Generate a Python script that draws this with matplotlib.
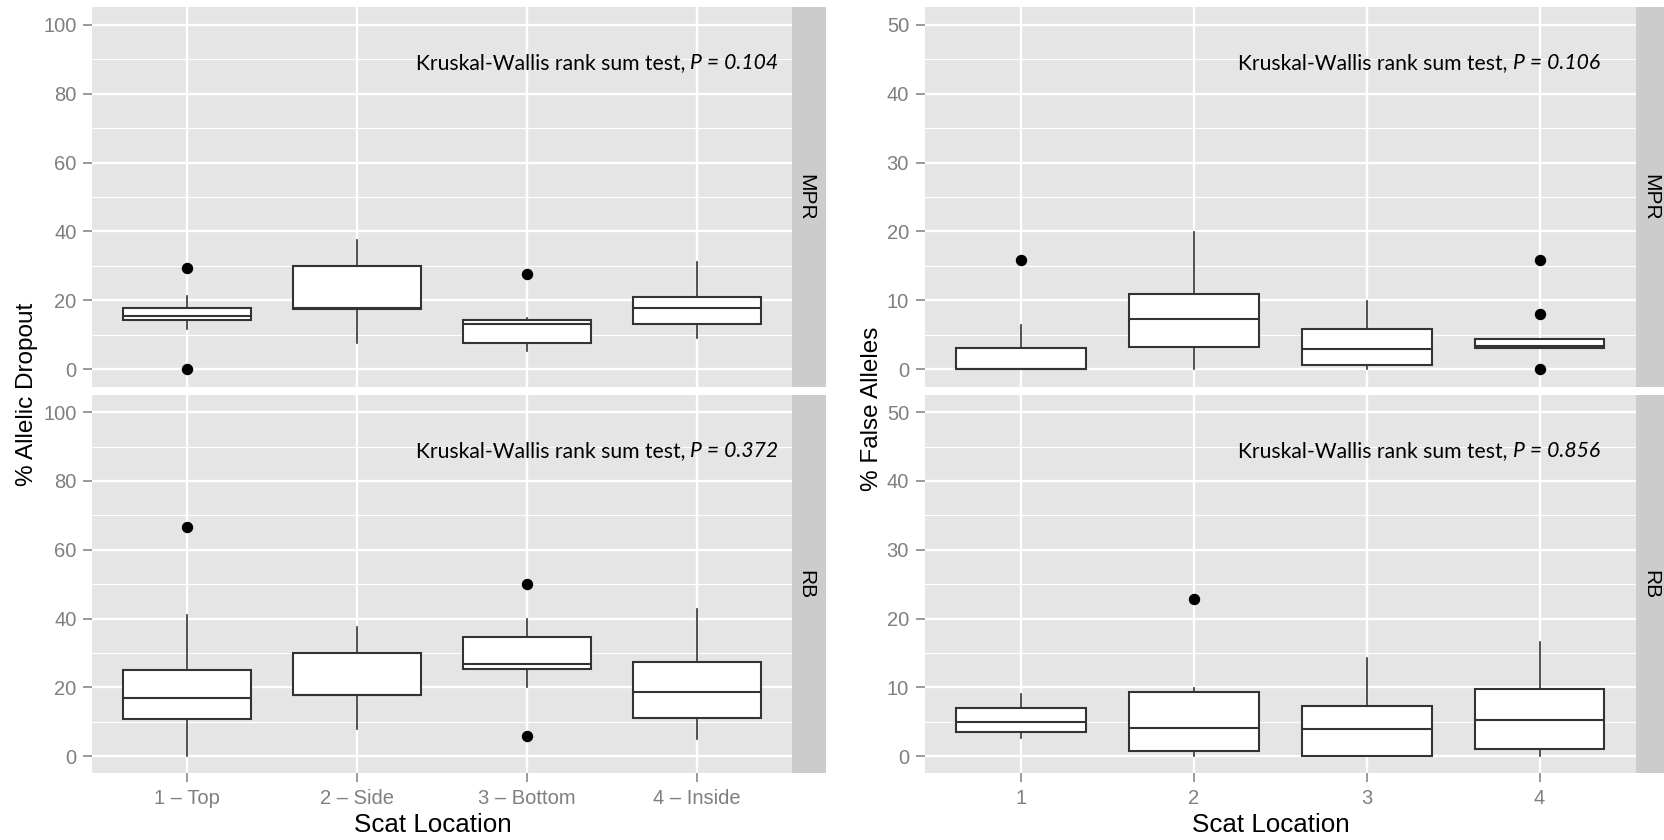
import matplotlib
matplotlib.use("Agg")
import matplotlib.pyplot as plt
from matplotlib.ticker import MultipleLocator
import numpy as np

# scat location categories
locations_left = ["1 – Top", "2 – Side", "3 – Bottom", "4 – Inside"]
locations_right = ["1", "2", "3", "4"]

# % allelic dropout, MPR
dropout_mpr_low = [11.6, 7.7, 5.3, 9.0]
dropout_mpr_q1 = [14.2, 17.6, 7.7, 13.3]
dropout_mpr_med = [15.5, 17.9, 13.3, 17.7]
dropout_mpr_q3 = [17.7, 30.0, 14.3, 21.1]
dropout_mpr_high = [21.4, 37.5, 15.0, 31.1]
dropout_mpr_out = [[29.5, 0.0], [], [27.7], []]

# % allelic dropout, RB
dropout_rb_low = [0.0, 7.8, 20.2, 5.0]
dropout_rb_q1 = [10.9, 17.7, 25.2, 11.1]
dropout_rb_med = [16.8, 17.9, 26.9, 18.6]
dropout_rb_q3 = [24.9, 30.0, 34.6, 27.4]
dropout_rb_high = [41.0, 37.5, 39.9, 42.9]
dropout_rb_out = [[66.7], [], [50.0, 5.8], []]

# % false alleles, MPR
false_mpr_low = [0.0, 0.0, 0.0, 3.1]
false_mpr_q1 = [0.0, 3.2, 0.6, 3.1]
false_mpr_med = [0.0, 7.3, 3.0, 3.4]
false_mpr_q3 = [3.1, 10.9, 5.9, 4.35]
false_mpr_high = [6.5, 19.9, 9.9, 4.35]
false_mpr_out = [[15.9], [], [], [15.8, 8.0, 0.0]]

# % false alleles, RB
false_rb_low = [2.7, 0.0, 0.0, 0.0]
false_rb_q1 = [3.5, 0.7, 0.0, 1.0]
false_rb_med = [5.0, 4.1, 3.9, 5.2]
false_rb_q3 = [7.0, 9.3, 7.25, 9.8]
false_rb_high = [9.1, 9.9, 14.25, 16.6]
false_rb_out = [[], [22.8], [], []]

facets = ["MPR", "RB"]
p_dropout = ["0.104", "0.372"]
p_false = ["0.106", "0.856"]

W, H = 1665, 840
PANEL_BG = "#E5E5E5"
STRIP_BG = "#CCCCCC"
GREY = "#7F7F7F"
BOX_EDGE = "#333333"
FONT = "Liberation Sans"
NOTE_FONT = "Lato"

plt.rcParams["font.family"] = FONT


def stats_from(low, q1, med, q3, high, out):
    return [dict(whislo=a, q1=b, med=c, q3=d, whishi=e, fliers=f)
            for a, b, c, d, e, f in zip(low, q1, med, q3, high, out)]


def px_axes(fig, x0, y0, x1, y1):
    return fig.add_axes([x0 / W, 1 - y1 / H, (x1 - x0) / W, (y1 - y0) / H])


def draw_facet(ax, stats, ymax, major, labels, show_x):
    ax.set_facecolor(PANEL_BG)
    for s in ax.spines.values():
        s.set_visible(False)
    ax.set_axisbelow(True)
    ax.bxp(stats, positions=[1, 2, 3, 4], widths=0.75, patch_artist=True,
           showcaps=False,
           boxprops=dict(facecolor="white", edgecolor=BOX_EDGE, linewidth=1.5),
           medianprops=dict(color=BOX_EDGE, linewidth=1.5),
           whiskerprops=dict(color=BOX_EDGE, linewidth=1.2),
           flierprops=dict(marker="o", markerfacecolor="black",
                           markeredgecolor="black", markersize=7.2))
    ax.set_xlim(0.445, 4.56)
    ax.set_ylim(-0.05 * ymax, 1.05 * ymax)
    ax.yaxis.set_major_locator(MultipleLocator(major))
    ax.yaxis.set_minor_locator(MultipleLocator(major / 2))
    ax.set_xticks([1, 2, 3, 4])
    ax.grid(which="major", color="white", linewidth=1.7)
    ax.grid(which="minor", axis="y", color="white", linewidth=0.8)
    ax.tick_params(which="minor", length=0)
    ax.tick_params(which="major", length=6.5, width=1.1, color=GREY,
                   labelcolor=GREY, labelsize=14.5, pad=5)
    if show_x:
        ax.set_xticklabels(labels)
    else:
        ax.tick_params(axis="x", length=0, labelbottom=False)


def draw_strip(fig, x0, y0, x1, y1, label):
    sax = px_axes(fig, x0, y0, x1, y1)
    sax.set_facecolor(STRIP_BG)
    sax.set_xticks([])
    sax.set_yticks([])
    for s in sax.spines.values():
        s.set_visible(False)
    # label sits 14 px inside the strip's left edge
    sax.text(14 / (x1 - x0), 0.5, label, rotation=-90, ha="center", va="center",
             fontsize=15, color="black", transform=sax.transAxes)


def add_note(ax, x, y, p):
    it = ax.text(x, y, "P = " + p, ha="right", va="baseline",
                 fontsize=15.2, style="italic", family=NOTE_FONT)
    ax.annotate("Kruskal-Wallis rank sum test, ", xy=(0, 0), xycoords=it,
                ha="right", va="bottom", fontsize=15.2, family=NOTE_FONT)


fig = plt.figure(figsize=(W / 100, H / 100), dpi=100)

rows = [(7.3, 386.7), (395, 773.3)]
panels = [
    dict(x0=92.4, x1=792.2, ymax=100, major=20, labels=locations_left,
         note_x=4.48, pvals=p_dropout,
         stats=[stats_from(dropout_mpr_low, dropout_mpr_q1, dropout_mpr_med,
                           dropout_mpr_q3, dropout_mpr_high, dropout_mpr_out),
                stats_from(dropout_rb_low, dropout_rb_q1, dropout_rb_med,
                           dropout_rb_q3, dropout_rb_high, dropout_rb_out)]),
    dict(x0=925.0, x1=1636.4, ymax=50, major=10, labels=locations_right,
         note_x=4.35, pvals=p_false,
         stats=[stats_from(false_mpr_low, false_mpr_q1, false_mpr_med,
                           false_mpr_q3, false_mpr_high, false_mpr_out),
                stats_from(false_rb_low, false_rb_q1, false_rb_med,
                           false_rb_q3, false_rb_high, false_rb_out)]),
]

for pan in panels:
    strip_end = min(pan["x1"] + 34, W)
    for i, (y0, y1) in enumerate(rows):
        ax = px_axes(fig, pan["x0"], y0, pan["x1"], y1)
        draw_facet(ax, pan["stats"][i], pan["ymax"], pan["major"],
                   pan["labels"], show_x=(i == 1))
        add_note(ax, pan["note_x"], 0.87 * pan["ymax"], pan["pvals"][i])
        draw_strip(fig, pan["x1"], y0, strip_end, y1, facets[i])

# axis titles
fig.text(433 / W, 1 - 832 / H, "Scat Location", ha="center", va="baseline",
         fontsize=18.7)
fig.text(1271 / W, 1 - 832 / H, "Scat Location", ha="center", va="baseline",
         fontsize=18.7)
fig.text(33 / W, 1 - 394 / H, "% Allelic Dropout", rotation=90,
         rotation_mode="anchor", ha="center", va="baseline", fontsize=17.5)
fig.text(878 / W, 1 - 409 / H, "% False Alleles", rotation=90,
         rotation_mode="anchor", ha="center", va="baseline", fontsize=17.5)

fig.savefig("out.png", dpi=100, facecolor="white")
